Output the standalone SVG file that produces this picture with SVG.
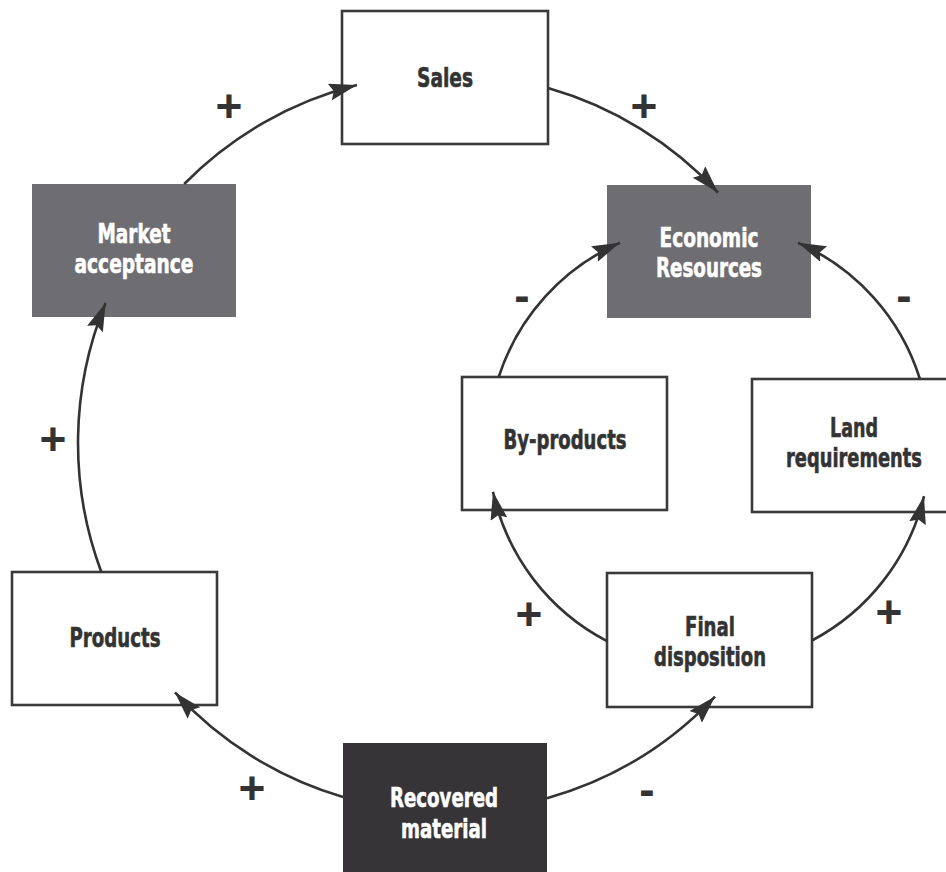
<svg xmlns="http://www.w3.org/2000/svg" width="946" height="872" viewBox="0 0 946 872">
<style>
.box{fill:#ffffff;stroke:#3a3a3a;stroke-width:2.6}
.gray{fill:#6e6e72}
.dark{fill:#363436}
.lbl{font-family:"Liberation Sans Narrow","DejaVu Sans Condensed","Liberation Sans",sans-serif;font-weight:bold;font-size:27px;text-anchor:middle;stroke-width:0.6}
.dk{fill:#333333;stroke:#333333}
.wt{fill:#ffffff;stroke:#ffffff}
.arc{fill:none;stroke:#333333;stroke-width:2.6}
.sign{font-family:"Liberation Sans",sans-serif;font-weight:bold;font-size:46px;fill:#333333;text-anchor:middle}
</style>
<defs>
<marker id="ah" markerUnits="userSpaceOnUse" markerWidth="30" markerHeight="20" refX="28" refY="8.5" orient="auto">
<path d="M0,0 L28,8.5 L0,17 L4,8.5 Z" fill="#333333"/>
</marker>
</defs>
<rect width="946" height="872" fill="#ffffff"/>
<g id="node-sales"><rect class="box" x="342" y="11" width="206" height="133"/><text class="lbl dk" x="445" y="87" textLength="56" lengthAdjust="spacingAndGlyphs">Sales</text></g>
<g id="node-market"><rect class="gray" x="32" y="184" width="204" height="133"/><text class="lbl wt" x="134" y="243" textLength="73" lengthAdjust="spacingAndGlyphs">Market</text><text class="lbl wt" x="134" y="273" textLength="119" lengthAdjust="spacingAndGlyphs">acceptance</text></g>
<g id="node-economic"><rect class="gray" x="607" y="185" width="204" height="133"/><text class="lbl wt" x="709" y="247" textLength="99" lengthAdjust="spacingAndGlyphs">Economic</text><text class="lbl wt" x="709" y="277" textLength="106" lengthAdjust="spacingAndGlyphs">Resources</text></g>
<g id="node-byproducts"><rect class="box" x="462" y="377" width="205" height="133"/><text class="lbl dk" x="565" y="449" textLength="123" lengthAdjust="spacingAndGlyphs">By-products</text></g>
<g id="node-land"><rect class="box" x="752" y="379" width="197" height="133"/><text class="lbl dk" x="854" y="437" textLength="48" lengthAdjust="spacingAndGlyphs">Land</text><text class="lbl dk" x="854" y="467" textLength="136" lengthAdjust="spacingAndGlyphs">requirements</text></g>
<g id="node-products"><rect class="box" x="12" y="572" width="205" height="133"/><text class="lbl dk" x="115" y="647" textLength="91" lengthAdjust="spacingAndGlyphs">Products</text></g>
<g id="node-final"><rect class="box" x="607" y="573" width="205" height="134"/><text class="lbl dk" x="710" y="636" textLength="50" lengthAdjust="spacingAndGlyphs">Final</text><text class="lbl dk" x="710" y="666" textLength="112" lengthAdjust="spacingAndGlyphs">disposition</text></g>
<g id="node-recovered"><rect class="dark" x="343" y="743" width="204" height="140"/><text class="lbl wt" x="444" y="807" textLength="108" lengthAdjust="spacingAndGlyphs">Recovered</text><text class="lbl wt" x="444" y="838" textLength="86" lengthAdjust="spacingAndGlyphs">material</text></g>
<g id="connectors">
<path class="arc" marker-end="url(#ah)" d="M184.2,184 A369,369 0 0 1 357,85.1"/>
<path class="arc" marker-end="url(#ah)" d="M548,88.1 A369,369 0 0 1 718,192.6"/>
<path class="arc" marker-end="url(#ah)" d="M101.3,572 A369,369 0 0 1 105.6,303"/>
<path class="arc" marker-end="url(#ah)" d="M343,797 A369,369 0 0 1 175,692.4"/>
<path class="arc" marker-end="url(#ah)" d="M547,798.2 A369,369 0 0 0 715,696.6"/>
<path class="arc" marker-end="url(#ah)" d="M498.7,377 A221,221 0 0 1 620,242.7"/>
<path class="arc" marker-end="url(#ah)" d="M919.9,379 A221,221 0 0 0 798,242.7"/>
<path class="arc" marker-end="url(#ah)" d="M607,641.1 A221,221 0 0 1 493,491.7"/>
<path class="arc" marker-end="url(#ah)" d="M812,640.5 A221,221 0 0 0 924,496.1"/>
</g>
<g id="signs">
<text class="sign" x="229" y="122">+</text>
<text class="sign" x="644" y="122">+</text>
<text class="sign" x="53" y="455">+</text>
<text class="sign" x="252" y="804">+</text>
<text class="sign" x="529" y="630">+</text>
<text class="sign" x="889" y="628">+</text>
<text class="sign" x="522" y="311">-</text>
<text class="sign" x="904" y="311">-</text>
<text class="sign" x="647" y="805">-</text>
</g>
</svg>
